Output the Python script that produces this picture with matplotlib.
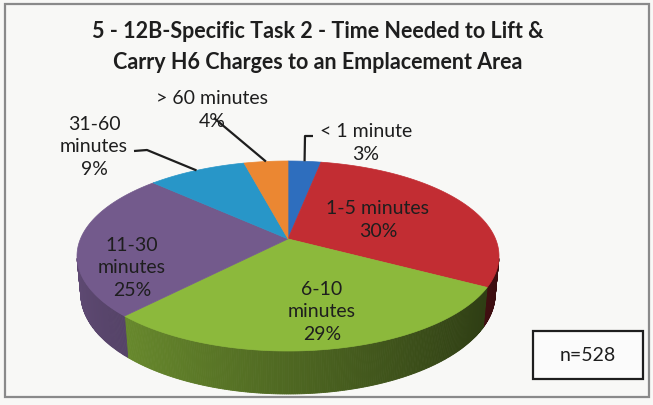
import numpy as np
import matplotlib
matplotlib.use("Agg")
import matplotlib.pyplot as plt
from matplotlib.patches import Polygon, Rectangle
from matplotlib.colors import to_rgb

# ---------------- data ----------------
categories = ["< 1 minute", "1-5 minutes", "6-10 minutes", "11-30 minutes",
              "31-60 minutes", "> 60 minutes"]
percent = [3, 30, 29, 25, 9, 4]
label_text = ["< 1 minute\n3%", "1-5 minutes\n30%", "6-10\nminutes\n29%",
              "11-30\nminutes\n25%", "31-60\nminutes\n9%", "> 60 minutes\n4%"]
slice_colors = ["#2e6ebe", "#c22d33", "#8cb93c", "#735a8c", "#2896c8", "#eb8732"]
title = "5 - 12B-Specific Task 2 - Time Needed to Lift &\nCarry H6 Charges to an Emplacement Area"
n_total = 528

# ---------------- layout ----------------
W, H = 653, 406
FONT = "Lato"
fig = plt.figure(figsize=(W / 100, H / 100), dpi=100)
fig.patch.set_facecolor("#f8f8f6")
ax = fig.add_axes([0, 0, 1, 1])
ax.set_xlim(0, W)
ax.set_ylim(H, 0)
ax.axis("off")

# outer chart frame
ax.add_patch(Rectangle((5, 5), 644, 393, fill=False, edgecolor="#8a8a8a", lw=1.6))

# perspective 3D pie geometry
elev = np.radians(26)
c, s = np.cos(elev), np.sin(elev)
Dcam = 5.0


def proj(X, Y, Z):
    depth = Dcam + Y * c - Z * s
    return X / depth, (Y * s + Z * c) / depth


left, right, top, bottom, side_bottom = 77, 499, 162, 352, 395
tt = np.linspace(0, 2 * np.pi, 1441)
sx0, sy0 = proj(np.sin(tt), np.cos(tt), 0 * tt)
kx = (right - left) / (sx0.max() - sx0.min())
ky = (bottom - top) / (sy0.max() - sy0.min())
sxmin, symax = sx0.min(), sy0.max()


def to_img(X, Y, Z):
    a, b = proj(X, Y, Z)
    return left + (a - sxmin) * kx, top + (symax - b) * ky


# find thickness so that side bottom reaches target
lo, hi = 0.0, 1.0
for _ in range(60):
    mid = (lo + hi) / 2
    _, yb = to_img(np.sin(tt), np.cos(tt), -mid + 0 * tt)
    if yb.max() < side_bottom:
        lo = mid
    else:
        hi = mid
hgt = (lo + hi) / 2

vals = np.array(percent, dtype=float)
edges = np.concatenate([[0], np.cumsum(vals)]) / vals.sum() * 2 * np.pi

# sides (only front-facing part visible)
vis_lim = -1.0 / (Dcam * c)
for i, col in enumerate(slice_colors):
    th = np.linspace(edges[i], edges[i + 1], max(4, int(np.degrees(edges[i + 1] - edges[i]) * 2)))
    rgb = np.array(to_rgb(col))
    for a0, a1 in zip(th[:-1], th[1:]):
        am = (a0 + a1) / 2
        if np.cos(am) > vis_lim + 0.02:
            continue
        X = np.sin(am)
        f = 0.56 - 0.26 * X
        fc = np.clip(rgb * f, 0, 1)
        xs, ys = [], []
        for a, z in [(a0, 0), (a1, 0), (a1, -hgt), (a0, -hgt)]:
            x, y = to_img(np.sin(a), np.cos(a), z)
            xs.append(x)
            ys.append(y)
        ax.add_patch(Polygon(np.c_[xs, ys], closed=True, facecolor=fc, edgecolor=fc,
                             lw=0.6, zorder=2))

# top faces
cx, cy = to_img(0.0, 0.0, 0.0)
for i, col in enumerate(slice_colors):
    th = np.linspace(edges[i], edges[i + 1], 200)
    x, y = to_img(np.sin(th), np.cos(th), 0 * th)
    pts = np.vstack([[cx, cy], np.c_[x, y]])
    ax.add_patch(Polygon(pts, closed=True, facecolor=col, edgecolor=col, lw=0.5, zorder=3))

# labels
label_xy = [(366, 143), (378, 220), (322, 312), (132, 268), (94, 147), (212, 110)]
for txt, (lx, ly) in zip(label_text, label_xy):
    ax.text(lx, ly, txt, ha="center", va="center", fontsize=14, family=FONT,
            color="#1e1e1e", linespacing=1.42, zorder=5)

# leader lines for small slices
mids = (edges[:-1] + edges[1:]) / 2
leader_start = {0: [(313, 137), (305, 137)], 5: [(214, 119)], 4: [(134, 152), (147, 151)]}
for i, pts in leader_start.items():
    ex, ey = to_img(np.sin(mids[i]), np.cos(mids[i]), 0.0)
    xs = [p[0] for p in pts] + [ex]
    ys = [p[1] for p in pts] + [ey]
    ax.plot(xs, ys, color="#1e1e1e", lw=1.6, zorder=6, solid_capstyle="butt")

# title
ax.text(318, 47, title, ha="center", va="center", fontsize=15.5, family=FONT,
        fontweight="bold", color="#1e1e1e", linespacing=1.6)

# n box
ax.add_patch(Rectangle((533, 332), 110, 48, fill=True, facecolor="#fbfbfb",
                       edgecolor="#1e1e1e", lw=1.6, zorder=5))
ax.text(588, 356, f"n={n_total}", ha="center", va="center", fontsize=14,
        family=FONT, color="#1e1e1e", zorder=6)

fig.savefig("out.png", dpi=100, facecolor=fig.get_facecolor())
